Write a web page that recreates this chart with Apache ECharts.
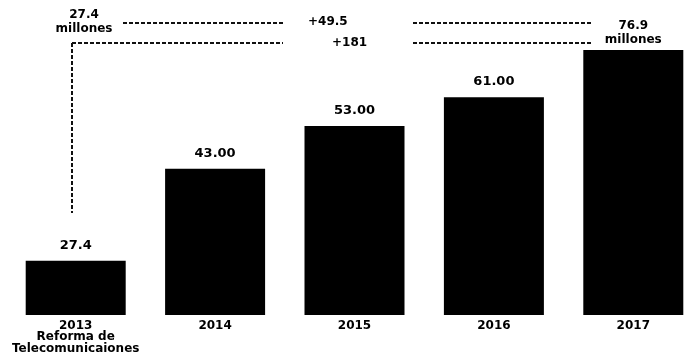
<!DOCTYPE html>
<html>
<head>
<meta charset="utf-8">
<script src="https://cdn.jsdelivr.net/npm/echarts@6/dist/echarts.min.js"></script>
<style>
  html, body { margin: 0; padding: 0; background: #fff; }
  #chart { width: 700px; height: 354px; }
</style>
</head>
<body>
<div id="chart"></div>
<script>
// usuarios (millones) por año
const years = ['2013', '2014', '2015', '2016', '2017']
const yearNotes = ['Reforma de\nTelecomunicaiones', '', '', '', '']
const users = [27.4, 43.0, 53.0, 61.0, 76.9]
const valueLabels = ['27.4', '43.00', '53.00', '61.00', '76.9']
const unitLabel = 'millones'
const deltas = ['+49.5', '+181']

const FONT = '"DejaVu Sans", Verdana, sans-serif'
const dash = { stroke: '#111', lineWidth: 2, lineDash: [4, 2] }

const chart = echarts.init(document.getElementById('chart'), null, { renderer: 'canvas' })

chart.setOption({
  backgroundColor: '#fff',
  animation: false,
  grid: { left: 6, right: -3, top: 42, bottom: 39, outerBoundsMode: 'none' },
  xAxis: {
    type: 'category',
    data: years,
    axisLine: { show: false },
    axisTick: { show: false },
    axisLabel: {
      interval: 0,
      margin: 5,
      fontFamily: FONT,
      fontWeight: 'bold',
      fontSize: 12,
      lineHeight: 11.5,
      color: '#000',
      formatter: (v, i) => (yearNotes[i] ? v + '\n' + yearNotes[i] : v),
    },
  },
  yAxis: {
    type: 'log',
    logBase: 10,
    min: 21,
    max: 80,
    startValue: 21,
    show: false,
    splitLine: { show: false },
  },
  series: [
    {
      type: 'bar',
      clip: true,
      barWidth: 100,
      itemStyle: { color: '#000' },
      label: {
        show: true,
        position: 'top',
        distance: 9,
        fontFamily: FONT,
        fontWeight: 'bold',
        fontSize: 13,
        color: '#000',
        formatter: (p) => valueLabels[p.dataIndex],
      },
      data: users.map((v, i) =>
        i === users.length - 1
          ? {
              value: v,
              label: {
                distance: 3,
                lineHeight: 14,
                fontSize: 12,
                formatter: valueLabels[i] + '\n' + unitLabel,
              },
            }
          : v
      ),
    },
  ],
  graphic: [
    // 27.4 millones (inicio)
    {
      type: 'text', x: 84, y: 8,
      style: { text: valueLabels[0] + '\n' + unitLabel, font: 'bold 12px ' + FONT, fill: '#000', align: 'center', lineHeight: 14 },
    },
    { type: 'line', shape: { x1: 123, y1: 23, x2: 285, y2: 23 }, style: dash },
    { type: 'line', shape: { x1: 413, y1: 23, x2: 593, y2: 23 }, style: dash },
    { type: 'line', shape: { x1: 72, y1: 43, x2: 283, y2: 43 }, style: dash },
    { type: 'line', shape: { x1: 413, y1: 43, x2: 593, y2: 43 }, style: dash },
    { type: 'line', shape: { x1: 72, y1: 43, x2: 72, y2: 213 }, style: dash },
    {
      type: 'text', x: 308, y: 16,
      style: { text: deltas[0], font: 'bold 12px ' + FONT, fill: '#000' },
    },
    {
      type: 'text', x: 332, y: 37,
      style: { text: deltas[1], font: 'bold 12px ' + FONT, fill: '#000' },
    },
  ],
})
</script>
</body>
</html>
